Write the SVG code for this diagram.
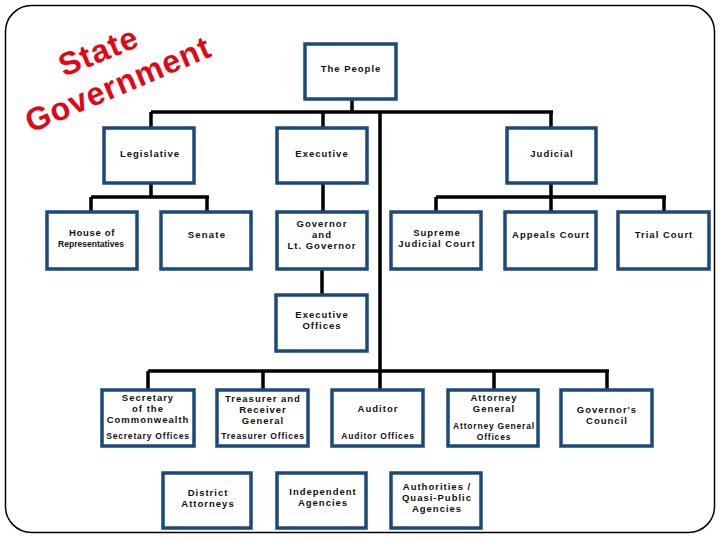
<svg xmlns="http://www.w3.org/2000/svg" width="720" height="540" viewBox="0 0 720 540">
<style>
.box{fill:#fff;stroke:#1b4a7a;stroke-width:3.5}
.t{font-family:"Liberation Sans",Arial,sans-serif;font-weight:bold;font-size:9.5px;letter-spacing:1px;fill:#111;text-anchor:middle}
.s{font-size:8.5px;letter-spacing:0.8px}
.c{fill:none;stroke:#000;stroke-width:3.5}
.title{font-family:"Liberation Sans",Arial,sans-serif;font-weight:bold;font-size:32px;fill:#e30613;letter-spacing:1px}
</style>
<rect x="0" y="0" width="720" height="540" fill="#fff"/>
<rect x="5.5" y="5.5" width="709" height="527" rx="26" fill="none" stroke="#000" stroke-width="1.5"/>
<text class="title" transform="translate(64,77) rotate(-22)">State</text>
<text class="title" transform="translate(31,133) rotate(-23)">Government</text>

<g id="connectors">
<path class="c" d="M352,100 V112 M151,112 H553 M151,112 V127 M323,112 V127 M551,112 V127"/>
<path class="c" d="M151,184 V197 M91,197 H209 M91,197 V211 M207,197 V211"/>
<path class="c" d="M323,184 V211 M322,270 V294"/>
<path class="c" d="M551,184 V197 M436,197 H666 M436,197 V211 M551,197 V211 M664,197 V211"/>
<path class="c" d="M380,112 V389 M148,371 H609 M148,371 V389 M263,371 V389 M494,371 V389 M607,371 V389"/>
</g>

<g id="people"><rect class="box" x="305" y="44" width="91" height="55"/><text class="t" x="351" y="72">The People</text></g>

<g id="legislative"><rect class="box" x="104" y="128" width="90" height="55"/><text class="t" x="150" y="157">Legislative</text></g>
<g id="executive"><rect class="box" x="277" y="128" width="90" height="55"/><text class="t" x="322" y="157">Executive</text></g>
<g id="judicial"><rect class="box" x="507" y="128" width="89" height="55"/><text class="t" x="552" y="157">Judicial</text></g>

<g id="house"><rect class="box" x="47" y="212" width="90" height="57"/><text class="t" x="92" y="236" style="letter-spacing:0.7px">House of</text><text class="t" x="91" y="247" style="letter-spacing:0" textLength="66" lengthAdjust="spacingAndGlyphs">Representatives</text></g>
<g id="senate"><rect class="box" x="161" y="212" width="90" height="57"/><text class="t" x="207" y="238" style="letter-spacing:1.2px">Senate</text></g>
<g id="governor"><rect class="box" x="277" y="212" width="90" height="57"/><text class="t" x="322" y="227">Governor</text><text class="t" x="322" y="238">and</text><text class="t" x="322" y="249">Lt. Governor</text></g>
<g id="supreme"><rect class="box" x="391" y="212" width="90" height="57"/><text class="t" x="437" y="236">Supreme</text><text class="t" x="437" y="247">Judicial Court</text></g>
<g id="appeals"><rect class="box" x="505" y="212" width="91" height="57"/><text class="t" x="551" y="238">Appeals Court</text></g>
<g id="trial"><rect class="box" x="618" y="212" width="91" height="57"/><text class="t" x="664" y="238">Trial Court</text></g>

<g id="execoffices"><rect class="box" x="276" y="295" width="91" height="56"/><text class="t" x="322" y="318">Executive</text><text class="t" x="322" y="329">Offices</text></g>

<g id="secretary"><rect class="box" x="102" y="390" width="92" height="56"/><text class="t" x="148" y="401">Secretary</text><text class="t" x="148" y="412">of the</text><text class="t" x="148" y="423">Commonwealth</text><text class="t s" x="148" y="439">Secretary Offices</text></g>
<g id="treasurer"><rect class="box" x="217" y="390" width="91" height="56"/><text class="t" x="263" y="402">Treasurer and</text><text class="t" x="263" y="413">Receiver</text><text class="t" x="263" y="424">General</text><text class="t s" x="263" y="439">Treasurer Offices</text></g>
<g id="auditor"><rect class="box" x="332" y="390" width="91" height="56"/><text class="t" x="378" y="412">Auditor</text><text class="t s" x="378" y="439">Auditor Offices</text></g>
<g id="attorney"><rect class="box" x="448" y="390" width="90" height="56"/><text class="t" x="494" y="401">Attorney</text><text class="t" x="494" y="412">General</text><text class="t s" x="494" y="429">Attorney General</text><text class="t s" x="494" y="440">Offices</text></g>
<g id="council"><rect class="box" x="561" y="390" width="91" height="56"/><text class="t" x="607" y="413">Governor's</text><text class="t" x="607" y="424">Council</text></g>

<g id="district"><rect class="box" x="163" y="473" width="88" height="55"/><text class="t" x="208" y="496">District</text><text class="t" x="208" y="507">Attorneys</text></g>
<g id="independent"><rect class="box" x="277" y="473" width="89" height="55"/><text class="t" x="323" y="495">Independent</text><text class="t" x="323" y="506">Agencies</text></g>
<g id="authorities"><rect class="box" x="391" y="473" width="90" height="55"/><text class="t" x="437" y="490">Authorities /</text><text class="t" x="437" y="501">Quasi-Public</text><text class="t" x="437" y="512">Agencies</text></g>
</svg>
